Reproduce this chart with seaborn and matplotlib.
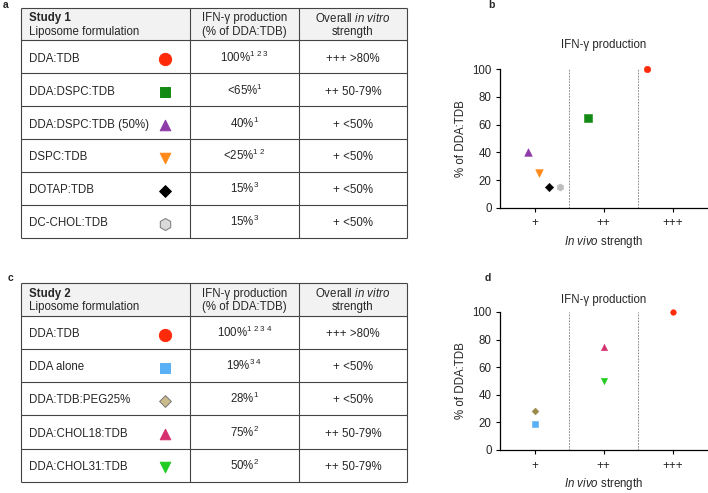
import pandas as pd
import seaborn as sns
import matplotlib.pyplot as plt

sns.set_style("ticks")
plt.rcParams['font.family'] = ['Liberation Sans', 'DejaVu Sans']
plt.rcParams['mathtext.fontset'] = 'custom'
plt.rcParams['mathtext.rm'] = 'Liberation Sans'
plt.rcParams['mathtext.it'] = 'Liberation Sans:italic'
plt.rcParams['mathtext.bf'] = 'Liberation Sans:bold'

FS = 8.3

# Study 1 data
study1_names = ["DDA:TDB", "DDA:DSPC:TDB", "DDA:DSPC:TDB (50%)", "DSPC:TDB", "DOTAP:TDB", "DC-CHOL:TDB"]
study1_ifn_text = ["100%", "<65%", "40%", "<25%", "15%", "15%"]
study1_refs = ["1 2 3", "1", "1", "1 2", "3", "3"]
study1_strength_text = ["+++ >80%", "++ 50-79%", "+ <50%", "+ <50%", "+ <50%", "+ <50%"]
study1_ifn = [100, 65, 40, 25, 15, 15]
study1_x = [2.63, 1.77, 0.91, 1.06, 1.21, 1.37]
study1_markers = ["o", "s", "^", "v", "D", "h"]
study1_colors = ["#ff2a0a", "#138a13", "#8e3aa8", "#ff8a1a", "#000000", "#d9d9d9"]
study1_plot_colors = ["#ff2a0a", "#138a13", "#8e3aa8", "#ff8a1a", "#000000", "#bdbdbd"]

# Study 2 data
study2_names = ["DDA:TDB", "DDA alone", "DDA:TDB:PEG25%", "DDA:CHOL18:TDB", "DDA:CHOL31:TDB"]
study2_ifn_text = ["100%", "19%", "28%", "75%", "50%"]
study2_refs = ["1 2 3 4", "3 4", "1", "2", "2"]
study2_strength_text = ["+++ >80%", "+ <50%", "+ <50%", "++ 50-79%", "++ 50-79%"]
study2_ifn = [100, 19, 28, 75, 50]
study2_x = [3, 1, 1, 2, 2]
study2_markers = ["o", "s", "D", "^", "v"]
study2_colors = ["#ff2a0a", "#5ab0f5", "#cbbb8c", "#d6306f", "#1fcc1f"]
study2_plot_colors = ["#ff2a0a", "#5ab0f5", "#9c8a4a", "#d6306f", "#1fcc1f"]

strength_ticks = ["+", "++", "+++"]

table_sizes = {"o": 78, "s": 44, "^": 58, "v": 58, "D": 36, "h": 75}

W, H = 708, 493
fig = plt.figure(figsize=(W / 100, H / 100), dpi=100)


def draw_table(top, bottom, study, names, ifn_text, refs, strength_text, markers, colors):
    ax = fig.add_axes([21 / W, 1 - bottom / H, 386 / W, (bottom - top) / H])
    n = len(names) + 1
    ax.axhspan(0, 1, color="#f2f2f2", zorder=0)
    ax.hlines(range(n + 1), 0, 1, color="#444444", lw=0.8, clip_on=False)
    ax.vlines([0, 0.438, 0.72, 1], 0, n, color="#444444", lw=0.8, clip_on=False)
    ax.text(0.0215, 0.33, study, fontsize=FS, fontweight="bold", va="center")
    ax.text(0.0215, 0.74, "Liposome formulation", fontsize=FS, va="center")
    ax.text(0.579, 0.33, "IFN-γ production", fontsize=FS, va="center", ha="center")
    ax.text(0.579, 0.74, "(% of DDA:TDB)", fontsize=FS, va="center", ha="center")
    ax.text(0.86, 0.33, r"Overall $\mathit{in\ vitro}$", fontsize=FS, va="center", ha="center")
    ax.text(0.86, 0.74, "strength", fontsize=FS, va="center", ha="center")
    for i, name in enumerate(names):
        y = i + 1.5
        ax.text(0.0215, y + 0.14, name, fontsize=FS, va="baseline")
        sup = refs[i].replace(" ", r"\ ")
        ax.text(0.579, y + 0.14, ifn_text[i] + "$^{" + sup + "}$", fontsize=FS, va="baseline", ha="center")
        ax.text(0.86, y + 0.14, strength_text[i], fontsize=FS, va="baseline", ha="center")
        m = markers[i]
        edge = "#777777" if colors[i] in ("#d9d9d9", "#cbbb8c") else colors[i]
        sns.scatterplot(x=[0.373], y=[y + 0.07], marker=m, color=colors[i], s=table_sizes[m],
                        edgecolor=edge, linewidth=0.7, ax=ax, zorder=3)
    ax.set_xlim(0, 1)
    ax.set_ylim(n, 0)
    ax.axis("off")


def draw_plot(top, bottom, xs, ys, markers, colors, sizes, title_pad):
    ax = fig.add_axes([500 / W, 1 - bottom / H, 207 / W, (bottom - top) / H])
    ax.vlines([1.5, 2.5], 0, 100, colors="#777777", linestyles=(0, (2, 1.5)), lw=0.6)
    for x, y, m, c, s in zip(xs, ys, markers, colors, sizes):
        sns.scatterplot(x=[x], y=[y], marker=m, color=c, s=s, edgecolor=c,
                        linewidth=0.4, ax=ax, zorder=3, clip_on=False)
    ax.set_xlim(0.5, 3.5)
    ax.set_ylim(0, 100)
    ax.set_yticks(range(0, 101, 20))
    ax.set_xticks([1, 2, 3])
    ax.set_xticklabels(strength_ticks)
    ax.tick_params(labelsize=FS, length=3, width=0.8, color="black", pad=4)
    ax.tick_params(axis="y", pad=3)
    sns.despine(ax=ax)
    for sp in ("left", "bottom"):
        ax.spines[sp].set_linewidth(0.9)
        ax.spines[sp].set_color("black")
    ax.set_ylabel("% of DDA:TDB", fontsize=FS, labelpad=3.5)
    ax.set_xlabel(r"$\mathit{In\ vivo}$ strength", fontsize=FS, labelpad=3)
    ax.set_title("IFN-γ production", fontsize=FS, pad=title_pad)
    return ax


draw_table(7.5, 238.3, "Study 1", study1_names, study1_ifn_text, study1_refs,
           study1_strength_text, study1_markers, study1_colors)
draw_table(282.7, 481.7, "Study 2", study2_names, study2_ifn_text, study2_refs,
           study2_strength_text, study2_markers, study2_colors)

draw_plot(69.3, 207.7, study1_x, study1_ifn, study1_markers, study1_plot_colors,
          [22, 26, 30, 30, 18, 26], 15)
draw_plot(312, 450, study2_x, study2_ifn, study2_markers, study2_plot_colors,
          [16, 18, 12, 20, 20], 6.3)

for lab, (x, y) in zip("abcd", [(5.5, 5), (491.7, 5), (11, 278), (487.7, 278)]):
    fig.text(x / W, 1 - y / H, lab, fontsize=7.5, fontweight="bold", ha="center", va="center")

fig.savefig("out.png", dpi=100)
